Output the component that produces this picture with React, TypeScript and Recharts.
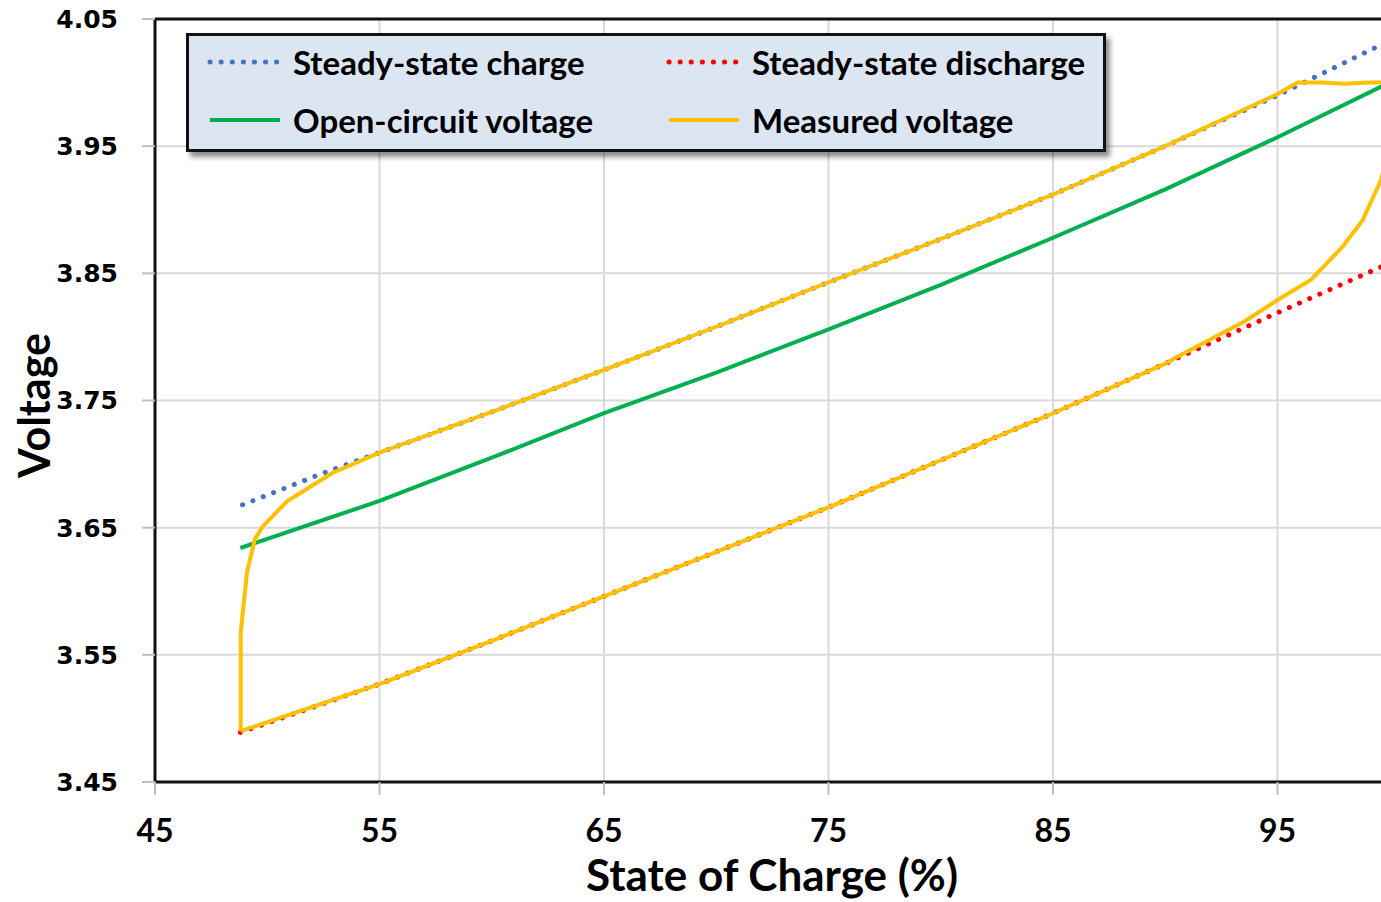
import React from 'react';
import { LineChart, Line, XAxis, YAxis, CartesianGrid, ReferenceLine, Legend } from 'recharts';

// state of charge (%) / voltage readings for each trace
const chargeSoc = [48.9, 52.5, 55, 60, 65, 70, 75, 80, 85, 90, 95, 100];
const chargeV = [3.668, 3.693, 3.709, 3.741, 3.774, 3.808, 3.843, 3.877, 3.912, 3.95, 3.99, 4.033];

const dischargeSoc = [48.8, 55, 60, 65, 70, 75, 80, 85, 90, 95, 100];
const dischargeV = [3.489, 3.527, 3.561, 3.596, 3.631, 3.666, 3.703, 3.74, 3.779, 3.819, 3.858];

const ocvSoc = [48.8, 55, 60, 65, 70, 75, 80, 85, 90, 95, 100];
const ocvV = [3.634, 3.671, 3.705, 3.74, 3.772, 3.806, 3.841, 3.878, 3.916, 3.957, 4.0];

// measured loop: charge up from 48.8 to 100, then discharge back down
const measuredSoc = [
    48.82, 48.82, 49.1, 49.45, 49.8, 50.9, 51.9, 52.9, 55, 60, 65, 70, 75, 80, 85, 90, 95, 95.9, 97, 98, 99, 100,
    100, 99.6, 98.8, 97.9, 96.5, 95, 93.5, 92, 90.5, 90, 85, 80, 75, 70, 65, 60, 55, 48.82,
];
const measuredV = [
    3.49, 3.568, 3.615, 3.641, 3.651, 3.671, 3.682, 3.693, 3.709, 3.741, 3.774, 3.808, 3.843, 3.877, 3.912, 3.95, 3.991, 4.0, 4.0, 3.999, 4.0, 4.0,
    3.95, 3.923, 3.892, 3.871, 3.845, 3.829, 3.812, 3.798, 3.784, 3.779, 3.74, 3.703, 3.666, 3.631, 3.596, 3.561, 3.527, 3.49,
];

const xTicks = [45, 55, 65, 75, 85, 95];
const yTicks = [3.45, 3.55, 3.65, 3.75, 3.85, 3.95, 4.05];

const zip = (xs: number[], ys: number[]) => xs.map((soc, i) => ({ soc, v: ys[i] }));

const chargeData = zip(chargeSoc, chargeV);
const dischargeData = zip(dischargeSoc, dischargeV);
const ocvData = zip(ocvSoc, ocvV);
const measuredData = zip(measuredSoc, measuredV);

const BLUE = '#4472c4';
const RED = '#ff0000';
const GREEN = '#00b050';
const YELLOW = '#ffc000';

const legendItems = [
    { name: 'Steady-state charge', color: BLUE, dotted: true, left: 21, top: 29 },
    { name: 'Steady-state discharge', color: RED, dotted: true, left: 480, top: 29 },
    { name: 'Open-circuit voltage', color: GREEN, dotted: false, left: 21, top: 87 },
    { name: 'Measured voltage', color: YELLOW, dotted: false, left: 480, top: 87 },
];

const renderLegend = () => (
    <div
        style={{
            position: 'relative',
            width: 920,
            height: 119,
            boxSizing: 'border-box',
            background: '#dce6f2',
            border: '3px solid #111',
            boxShadow: '4px 5px 5px rgba(0,0,0,0.45)',
        }}
    >
        {legendItems.map((it) => (
            <div key={it.name} style={{ position: 'absolute', left: it.left - 3, top: it.top - 3 - 20, height: 40, display: 'flex', alignItems: 'center' }}>
                <svg width={76} height={10} style={{ marginRight: 10 }}>
                    <line
                        x1={3}
                        y1={5}
                        x2={73}
                        y2={5}
                        stroke={it.color}
                        strokeWidth={it.dotted ? 5 : 4}
                        strokeDasharray={it.dotted ? '0.1 11' : undefined}
                        strokeLinecap={it.dotted ? 'round' : 'butt'}
                    />
                </svg>
                <span style={{ fontFamily: 'Lato, sans-serif', fontWeight: 700, fontSize: 33, color: '#000', whiteSpace: 'nowrap' }}>
                    {it.name}
                </span>
            </div>
        ))}
    </div>
);

const YLabel = (props: any) => {
    const { viewBox } = props;
    const cy = viewBox.y + viewBox.height / 2 + 5;
    return (
        <text x={33} y={cy} transform={`rotate(-90, 33, ${cy})`} textAnchor="middle" dominantBaseline="central"
            style={{ fontFamily: 'Lato, sans-serif', fontWeight: 700, fontSize: 43, fill: '#000' }}>
            Voltage
        </text>
    );
};

const XLabel = () => (
    <text x={772} y={874} textAnchor="middle" dominantBaseline="central"
        style={{ fontFamily: 'Lato, sans-serif', fontWeight: 700, fontSize: 44, fill: '#000' }}>
        State of Charge (%)
    </text>
);

export default function App() {
    return (
        <div style={{ position: 'fixed', left: 0, top: 0, width: 1381, height: 902, overflow: 'hidden', background: '#fff' }}>
            <LineChart width={1600} height={902} margin={{ top: 19, right: 98, left: 0, bottom: 0 }}>
                <CartesianGrid stroke="#d9d9d9" strokeWidth={2} />
                <XAxis
                    type="number"
                    dataKey="soc"
                    domain={[45, 105]}
                    ticks={xTicks}
                    height={120}
                    tickSize={13}
                    tickMargin={24}
                    axisLine={{ stroke: '#111', strokeWidth: 3 }}
                    tickLine={{ stroke: '#bfbfbf', strokeWidth: 2 }}
                    tick={{ fontFamily: 'Lato, sans-serif', fontWeight: 700, fontSize: 32, fill: '#000' }}
                    label={<XLabel />}
                />
                <YAxis
                    type="number"
                    dataKey="v"
                    domain={[3.45, 4.05]}
                    ticks={yTicks}
                    width={155}
                    tickSize={13}
                    tickMargin={24}
                    tickFormatter={(v: number) => v.toFixed(2)}
                    axisLine={{ stroke: '#111', strokeWidth: 3 }}
                    tickLine={{ stroke: '#bfbfbf', strokeWidth: 2 }}
                    tick={{ fontFamily: '"DejaVu Sans", sans-serif', fontWeight: 700, fontSize: 25, fill: '#000' }}
                    label={<YLabel />}
                />
                <ReferenceLine y={4.05} stroke="#111" strokeWidth={3} />
                <Legend layout="horizontal" verticalAlign="middle" align="center" content={renderLegend}
                    wrapperStyle={{ left: 186, top: 33, width: 920, height: 119 }} />
                <Line data={dischargeData} dataKey="v" name="Steady-state discharge" type="linear" stroke={RED}
                    strokeWidth={5} strokeDasharray="0.1 11" strokeLinecap="round" dot={false} isAnimationActive={false} />
                <Line data={chargeData} dataKey="v" name="Steady-state charge" type="linear" stroke={BLUE}
                    strokeWidth={5} strokeDasharray="0.1 11" strokeLinecap="round" dot={false} isAnimationActive={false} />
                <Line data={ocvData} dataKey="v" name="Open-circuit voltage" type="linear" stroke={GREEN}
                    strokeWidth={4} dot={false} isAnimationActive={false} />
                <Line data={measuredData} dataKey="v" name="Measured voltage" type="linear" stroke={YELLOW}
                    strokeWidth={4} dot={false} isAnimationActive={false} />
            </LineChart>
        </div>
    );
}
